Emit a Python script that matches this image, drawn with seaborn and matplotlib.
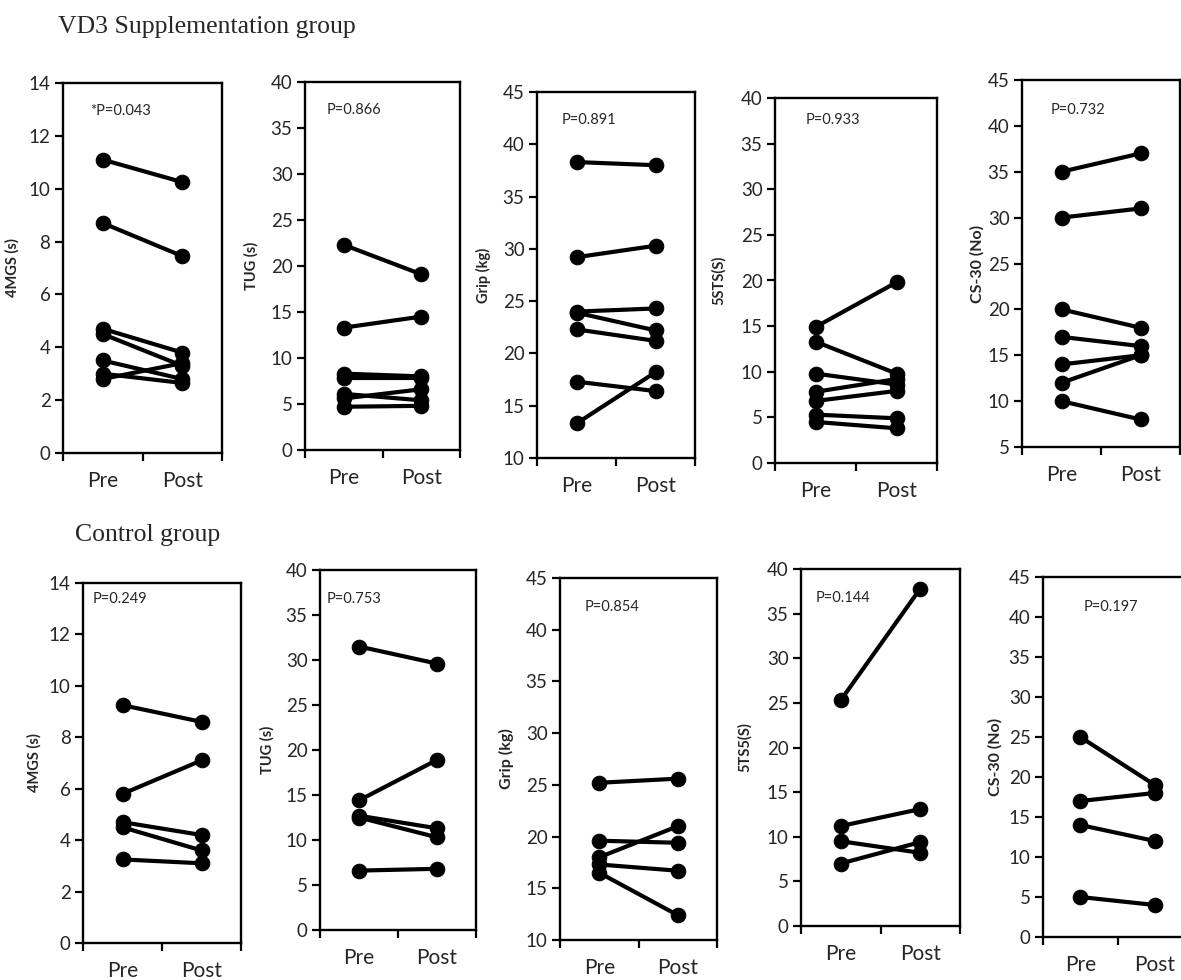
import numpy as np
import pandas as pd
import matplotlib.pyplot as plt
import seaborn as sns

sns.set_style('ticks')
plt.rcParams['font.family'] = ['Lato', 'DejaVu Sans']

# values (Pre / Post per subject)
mgs_vd_pre = [11.1, 8.7, 4.7, 4.5, 3.5, 3.0, 2.8]
mgs_vd_post = [10.25, 7.45, 3.8, 3.3, 2.8, 2.65, 3.4]
tug_vd_pre = [22.3, 13.3, 8.3, 7.8, 6.1, 5.6, 4.7]
tug_vd_post = [19.1, 14.5, 8.0, 7.8, 5.4, 6.6, 4.8]
grip_vd_pre = [38.3, 29.2, 24.0, 23.9, 22.3, 17.3, 13.3]
grip_vd_post = [38.0, 30.3, 24.3, 22.2, 21.2, 16.4, 18.2]
sts_vd_pre = [14.9, 13.3, 9.8, 7.8, 6.8, 5.3, 4.5]
sts_vd_post = [19.8, 9.8, 8.6, 9.2, 7.9, 4.9, 3.8]
cs_vd_pre = [35, 30, 20, 17, 14, 12, 10]
cs_vd_post = [37, 31, 18, 16, 15, 15, 8]

mgs_c_pre = [9.25, 5.8, 4.7, 4.5, 3.25]
mgs_c_post = [8.6, 7.1, 4.2, 3.6, 3.1]
tug_c_pre = [31.5, 14.4, 12.7, 12.5, 6.6]
tug_c_post = [29.6, 18.9, 11.3, 10.3, 6.8]
grip_c_pre = [25.2, 19.6, 18.0, 17.3, 16.5]
grip_c_post = [25.6, 19.4, 21.0, 16.7, 12.4]
sts_c_pre = [25.3, 11.2, 9.5, 7.0]
sts_c_post = [37.8, 13.1, 8.2, 9.4]
cs_c_pre = [25, 17, 14, 5]
cs_c_post = [19, 18, 12, 4]

times = ['Pre', 'Post']
ylabels = ['4MGS (s)', 'TUG (s)', 'Grip (kg)', '5STS(S)', 'CS-30 (No)',
           '4MGS (s)', 'TUG (s)', 'Grip (kg)', '5TS5(S)', 'CS-30 (No)']
pvals = ['*P=0.043', 'P=0.866', 'P=0.891', 'P=0.933', 'P=0.732',
         'P=0.249', 'P=0.753', 'P=0.854', 'P=0.144', 'P=0.197']
ylims = [(0, 14, 2), (0, 40, 5), (10, 45, 5), (0, 40, 5), (5, 45, 5),
         (0, 14, 2), (0, 40, 5), (10, 45, 5), (0, 40, 5), (0, 45, 5)]
series = [(mgs_vd_pre, mgs_vd_post), (tug_vd_pre, tug_vd_post),
          (grip_vd_pre, grip_vd_post), (sts_vd_pre, sts_vd_post),
          (cs_vd_pre, cs_vd_post),
          (mgs_c_pre, mgs_c_post), (tug_c_pre, tug_c_post),
          (grip_c_pre, grip_c_post), (sts_c_pre, sts_c_post),
          (cs_c_pre, cs_c_post)]

# layout in pixels: left, top, right, bottom
boxes = [(63, 83, 222, 453), (305, 82, 460, 450), (537, 92, 695, 458),
         (775, 98, 937, 463), (1022, 80, 1180, 447),
         (83, 583, 241, 943), (320, 570, 476, 930), (560, 578, 717, 940),
         (801, 569, 960, 926), (1043, 577, 1192, 937)]
ptext_pos = [(0.17, 0.925), (0.14, 0.925), (0.155, 0.923), (0.19, 0.94), (0.18, 0.918),
             (0.06, 0.955), (0.045, 0.92), (0.16, 0.92), (0.09, 0.92), (0.27, 0.917)]
label_x = [-0.27, -0.30, -0.29, -0.30, -0.24, -0.26, -0.29, -0.29, -0.31, -0.27]
label_size = [10.5, 10.5, 10.5, 10.5, 11.5, 10.5, 10.5, 11.5, 10.5, 11.5]

W, H = 1181, 980
fig = plt.figure(figsize=(W / 100, H / 100), dpi=100)

for i in range(10):
    l, t, r, b = boxes[i]
    ax = fig.add_axes([l / W, 1 - b / H, (r - l) / W, (b - t) / H])
    pre, post = series[i]
    n = len(pre)
    df = pd.DataFrame({
        'subject': list(range(n)) * 2,
        'x': [0] * n + [1] * n,
        'value': list(pre) + list(post),
    })
    sns.lineplot(data=df, x='x', y='value', units='subject', estimator=None,
                 color='black', linewidth=3.0, marker='o', markersize=10.5,
                 markeredgecolor='black', ax=ax)
    lo, hi, step = ylims[i]
    ax.set_ylim(lo, hi)
    ax.set_yticks(np.arange(lo, hi + 0.1, step))
    ax.set_xlim(-0.5, 1.5)
    ax.set_xticks([-0.5, 0.5, 1.5])
    ax.set_xticklabels([])
    ax.set_xticks([0, 1], minor=True)
    ax.set_xticklabels(times, minor=True, fontsize=15)
    ax.tick_params(axis='x', which='minor', length=0, pad=13)
    ax.tick_params(axis='both', which='major', direction='out', length=6,
                   width=1.6, labelsize=13.5, color='black', pad=3)
    ax.set_xlabel('')
    ax.set_ylabel(ylabels[i], fontsize=label_size[i], fontweight='bold')
    ax.yaxis.set_label_coords(label_x[i], 0.5)
    for s in ax.spines.values():
        s.set_linewidth(1.7)
        s.set_color('black')
        s.set_visible(True)
    ax.text(ptext_pos[i][0], ptext_pos[i][1], pvals[i], transform=ax.transAxes,
            fontsize=10.5, va='center', ha='left')

fig.text(58 / W, 1 - 27 / H, 'VD3 Supplementation group', fontsize=18.5,
         family='Liberation Serif', va='center', ha='left')
fig.text(75 / W, 1 - 535 / H, 'Control group', fontsize=18.5,
         family='Liberation Serif', va='center', ha='left')

fig.savefig('out.png', dpi=100)
